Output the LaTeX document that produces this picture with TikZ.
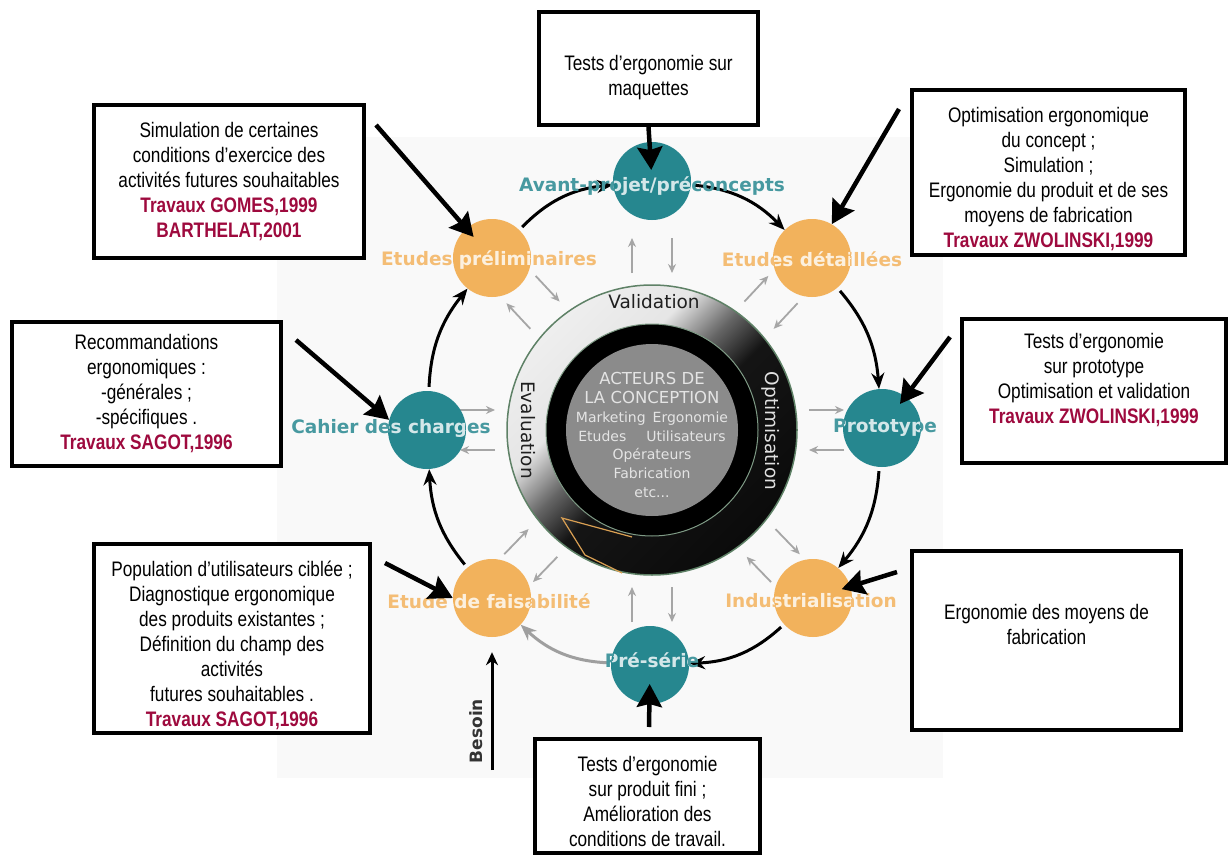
\documentclass[tikz,border=0pt]{standalone}
\usepackage{fontspec}
\usepackage{xcolor}
\usetikzlibrary{arrows.meta, positioning, calc}
\newfontfamily\narrowfont{Liberation Sans}[FakeStretch=0.82]
\newfontfamily\roundfont{DejaVu Sans}
\definecolor{stageteal}{HTML}{26878F}
\definecolor{stageorange}{HTML}{F2B25C}
\definecolor{refred}{HTML}{9E0A3E}
\definecolor{ringgreen}{HTML}{5E8166}
\definecolor{diskgrey}{HTML}{8B8B8B}
\definecolor{diskink}{HTML}{E4E4E4}
\definecolor{panelgrey}{HTML}{F9F9F9}
\pgfdeclarehorizontalshading{ringshade}{100bp}{color(0bp)=(white); color(38bp)=(white!90!black); color(46bp)=(black!60); color(53bp)=(black!92); color(100bp)=(black)}
\newcommand{\travaux}[1]{\textcolor{refred}{\bfseries #1}}

\begin{document}
\begin{tikzpicture}[x=1pt, y=-1pt,
          stage/.style={circle, minimum size=78pt, inner sep=0pt},
          stagelbl/.style={inner sep=0pt, font=\roundfont\bfseries\fontsize{18.5}{20}\selectfont},
          ringword/.style={inner sep=0pt, font=\roundfont\fontsize{18.5}{20}\selectfont},
          box/.style={draw, line width=4pt, fill=white, align=center, inner sep=2pt,
                      font=\narrowfont\fontsize{21}{25}\selectfont},
          cyc/.style={-{Stealth[length=16pt, width=13pt]}, line width=3pt, shorten <=4pt},
          back/.style={cyc, draw=gray!75},
          tiny/.style={-{Stealth[length=9pt, width=8pt]}, line width=1.8pt, draw=gray!70},
          callout/.style={-{Stealth[length=23pt, width=25pt, inset=3pt]}, line width=4.5pt},
        ]
        \useasboundingbox (0,0) rectangle (1231,856);
        \fill[panelgrey] (277,137) rectangle (943,778);

        \node[circle, minimum size=290pt, shade, shading=ringshade, shading angle=-45,
              draw=ringgreen, line width=1.5pt] (ring) at (652,430) {};
        \node[circle, minimum size=212pt, fill=black, draw=ringgreen!80, line width=1pt]
              (blackring) at (652,430) {};
        \node[circle, minimum size=172pt, fill=diskgrey] (acteurs) at (652,430) {};
        \node[align=center, text=diskink, font=\roundfont\fontsize{14}{18.8}\selectfont]
              (acteurstxt) at (652,435)
              {{\fontsize{16.5}{19.5}\selectfont ACTEURS DE}\\
               {\fontsize{16.5}{19.5}\selectfont LA CONCEPTION}\\
               Marketing\enspace Ergonomie\\Etudes\hspace{20pt}Utilisateurs\\
               Opérateurs\\Fabrication\\etc...};
        \draw[stageorange!90!black, line width=1.2pt] (632,537) -- (562,518) -- (585,555) -- (622,573);

        \node[ringword, text=black!88] (valid) at (654,302) {Validation};
        \node[ringword, text=black!88, rotate=-90] (evalu) at (528,430) {Evaluation};
        \node[ringword, text=white!88!black, rotate=-90] (optimi) at (771,431) {Optimisation};

        \foreach \a in {-90,-47,0,46,90,134,180,-133} {
          \draw[tiny] ($(ring)+(\a:192)+(\a+90:20)$) -- ($(ring)+(\a:157)+(\a+90:20)$);
          \draw[tiny] ($(ring)+(\a:157)+(\a-90:20)$) -- ($(ring)+(\a:192)+(\a-90:20)$);
        }

        \foreach \nm/\px/\py/\col in {avant/652/181/stageteal, prelim/492/258/stageorange,
            detail/812/258/stageorange, cahier/427/430/stageteal, proto/882/428/stageteal,
            faisab/492/598/stageorange, indus/813/598/stageorange, preserie/650/665/stageteal}
          \node[stage, fill=\col] (\nm) at (\px,\py) {};

        \draw[cyc] (prelim) to[bend left=20] (avant);
        \draw[cyc] (avant) to[bend left=20] (detail);
        \draw[cyc] (detail) to[bend left=18] (proto);
        \draw[cyc] (proto) to[bend left=18] (indus);
        \draw[cyc] (indus) to[bend left=20] (preserie);
        \draw[back] (preserie) to[bend left=20] (faisab);
        \draw[cyc] (faisab) to[bend left=18] (cahier);
        \draw[cyc] (cahier) to[bend left=18] (prelim);

        \foreach \nm/\col/\lx/\ly/\txt in {avant/stageteal/652/186/{Avant-projet/préconcepts},
            prelim/stageorange/489/260/{Etudes préliminaires},
            detail/stageorange/812/259/{Etudes détaillées},
            cahier/stageteal/391/428/{Cahier des charges},
            proto/stageteal/885/428/{Prototype},
            faisab/stageorange/489/601/{Etude de faisabilité},
            indus/stageorange/811/601/{Industrialisation},
            preserie/stageteal/652/660/{Pré-série}} {
          \node[stagelbl, text=\col!85!white] (\nm-lbl) at (\lx,\ly) {\txt};
          \begin{scope}
            \clip (\nm) circle[radius=38];
            \node[stagelbl, text=white!80!\col] (\nm-in) at (\lx,\ly) {\txt};
          \end{scope}
        }

        \node[box, minimum width=270pt, minimum height=153pt] (simul) at (229,181.5)
              {Simulation de certaines\\conditions d’exercice des\\activités futures souhaitables\\
               \travaux{Travaux GOMES,1999}\\\travaux{BARTHELAT,2001}};
        \node[box, minimum width=269pt, minimum height=144pt] (recom) at (146.5,394)
              {Recommandations\\ergonomiques :\\-générales ;\\-spécifiques .\\
               \travaux{Travaux SAGOT,1996}};
        \node[box, minimum width=276pt, minimum height=189pt] (popul) at (232,638.5)
              {\rule{0pt}{30pt}Population d’utilisateurs ciblée ;\\Diagnostique ergonomique\\des produits existantes ;\\
               Définition du champ des\\activités\\futures souhaitables .\\
               \travaux{Travaux SAGOT,1996}};
        \node[box, minimum width=219pt, minimum height=113pt] (maquet) at (648.5,68.5)
              {\rule{0pt}{34pt}Tests d’ergonomie sur\\maquettes};
        \node[box, minimum width=273pt, minimum height=165pt] (optim) at (1048.5,172.5)
              {\rule{0pt}{29pt}Optimisation ergonomique\\du concept ;\\Simulation ;\\Ergonomie du produit et de ses\\
               moyens de fabrication\\\travaux{Travaux ZWOLINSKI,1999}};
        \node[box, minimum width=264pt, minimum height=144pt] (protot) at (1094,391)
              {Tests d’ergonomie\\sur prototype\\Optimisation et validation\\
               \travaux{Travaux ZWOLINSKI,1999}\rule[-26pt]{0pt}{26pt}};
        \node[box, minimum width=269pt, minimum height=179pt] (moyens) at (1046.5,640.5)
              {Ergonomie des moyens de\\fabrication\\\strut};
        \node[box, minimum width=225pt, minimum height=114pt] (fini) at (647.5,796)
              {\rule{0pt}{27pt}Tests d’ergonomie\\sur produit fini ;\\Amélioration des\\conditions de travail.};

        \coordinate (simulfoot) at (376,125);
        \coordinate (recomfoot) at (296,340);
        \coordinate (populfoot) at (385,563);
        \coordinate (optimfoot) at (899,109);
        \coordinate (protofoot) at (950,337);
        \coordinate (moyenfoot) at (897,572);
        \coordinate (finifoot) at (649,727);
        \coordinate (besoinfoot) at (492,770);

        \draw[callout, shorten >=28pt] (simulfoot) -- (prelim.center);
        \draw[callout] (recomfoot) -- (cahier.165);
        \draw[callout] (populfoot) -- (faisab.west);
        \draw[callout, shorten >=11pt] (maquet.south) -- (avant.center);
        \draw[callout] (optimfoot) -- (detail);
        \draw[callout, shorten >=30pt] (protofoot) -- (proto.center);
        \draw[callout, shorten >=30pt] (moyenfoot) -- (indus.center);
        \draw[callout, shorten >=19pt] (finifoot) -- (preserie.center);

        \draw[-{Stealth[length=13pt, width=12pt]}, line width=3pt, shorten >=15pt] (besoinfoot) -- (faisab);
        \node[inner sep=0pt, rotate=90, text=black!80, font=\roundfont\bfseries\fontsize{17}{18}\selectfont]
              (besoin) at (476,731) {Besoin};
      \end{tikzpicture}
\end{document}
